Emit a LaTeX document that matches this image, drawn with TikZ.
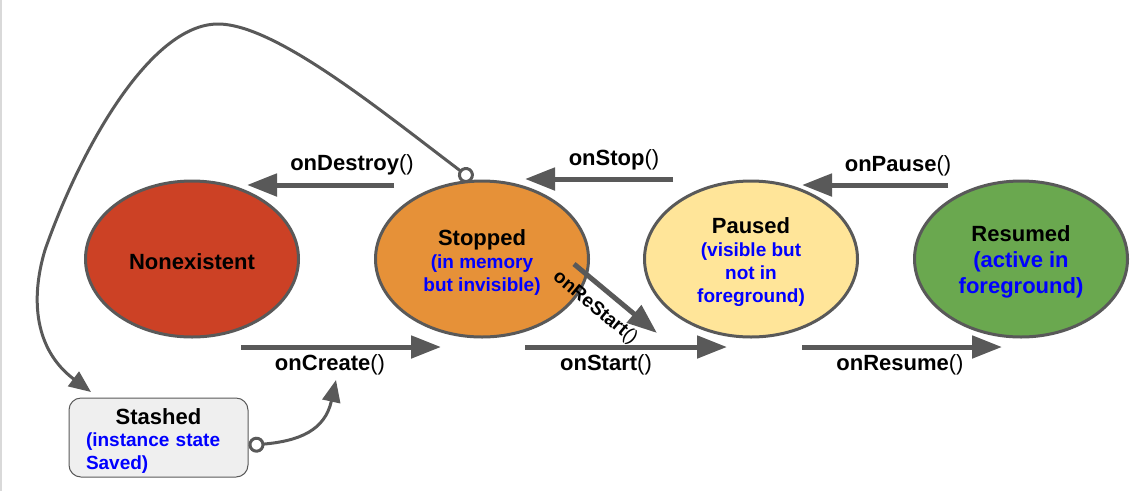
\documentclass[tikz,border=0pt]{standalone}
\usepackage{fontspec}
\setmainfont{Liberation Sans}
\usepackage{tikz}
\usetikzlibrary{shapes,arrows.meta}

\definecolor{edgegray}{HTML}{595959}
\definecolor{nonexred}{HTML}{CC4125}
\definecolor{stoporange}{HTML}{E69138}
\definecolor{pauseyellow}{HTML}{FFE599}
\definecolor{resumegreen}{HTML}{6AA84F}
\definecolor{stashgray}{HTML}{EFEFEF}
\definecolor{noteblue}{HTML}{0000FF}

\newcommand{\statename}[1]{{\fontsize{22}{26}\selectfont\bfseries\rule{0pt}{22pt}#1}}
\newcommand{\statenote}[1]{{\bfseries\color{noteblue}#1}}
\newcommand{\callback}[1]{\textbf{#1}()}

\begin{document}
\begin{tikzpicture}[x=1pt,y=-1pt]

\tikzstyle{lifestate}=[ellipse, draw=edgegray, line width=3pt,
	minimum width=213pt, minimum height=156pt, inner sep=0pt,
	align=center, font=\fontsize{19}{23}\selectfont]
\tikzstyle{stashbox}=[rectangle, rounded corners=12pt, draw=edgegray,
	line width=1pt, fill=stashgray, minimum width=179pt, minimum height=79pt,
	inner xsep=0pt, text width=145pt, align=left,
	font=\fontsize{19}{22.5}\selectfont]
\tikzstyle{lbl}=[font=\fontsize{22}{26}\selectfont, inner sep=0pt]
\tikzstyle{callarrow}=[draw=edgegray, line width=5pt,
	-{Triangle[length=30pt,width=22pt]}]
\tikzstyle{loopline}=[draw=edgegray, line width=3pt,
	{Circle[length=16pt,fill=white]}-{Triangle[length=22pt,width=18pt]}]

\useasboundingbox (0,0) rectangle (1137,491);
\draw[draw=black!15, line width=2pt] (1,0) -- (1,491);

% the four states
\node[lifestate, fill=nonexred] (nonexistent) at (192,259)
	{\statename{Nonexistent}};
\node[lifestate, fill=stoporange] (stopped) at (482,259)
	{\statename{Stopped}\\ \statenote{(in memory}\\ \statenote{but invisible)}};
\node[lifestate, fill=pauseyellow] (paused) at (751,259)
	{\statename{Paused}\\ \statenote{(visible but}\\ \statenote{not in}\\
	 \statenote{foreground)}};
\node[lifestate, fill=resumegreen, font=\fontsize{22}{26}\selectfont] (resumed)
	at (1021,259)
	{\statename{Resumed}\\ \statenote{(active in}\\ \statenote{foreground)}};

\node[stashbox] (stashed) at (158.5,437.5)
	{\makebox[145pt][c]{\statename{Stashed}}\\
	 \statenote{(instance state}\\ \statenote{Saved)}};

% going down (top row)
\coordinate (destroyFrom) at (394,185);
\coordinate (destroyTo) at (247,185);
\coordinate (stopFrom) at (673,179);
\coordinate (stopTo) at (525,179);
\coordinate (pauseFrom) at (948,185);
\coordinate (pauseTo) at (802,185);
\draw[callarrow] (destroyFrom) -- (destroyTo);
\draw[callarrow] (stopFrom) -- (stopTo);
\draw[callarrow] (pauseFrom) -- (pauseTo);
\node[lbl] (destroyLbl) at (352,165) {\callback{onDestroy}};
\node[lbl] (stopLbl) at (614,160) {\callback{onStop}};
\node[lbl] (pauseLbl) at (898,166) {\callback{onPause}};

% going up (bottom row)
\coordinate (createFrom) at (241,347);
\coordinate (createTo) at (441,347);
\coordinate (startFrom) at (525,347);
\coordinate (startTo) at (727,347);
\coordinate (resumeFrom) at (802,347);
\coordinate (resumeTo) at (1002,347);
\draw[callarrow] (createFrom) -- (createTo);
\draw[callarrow] (startFrom) -- (startTo);
\draw[callarrow] (resumeFrom) -- (resumeTo);
\node[lbl] (createLbl) at (330,365) {\callback{onCreate}};
\node[lbl] (startLbl) at (606,365) {\callback{onStart}};
\node[lbl] (resumeLbl) at (900,365) {\callback{onResume}};

\coordinate (restartFrom) at (574,264);
\coordinate (restartTo) at (657,333);
\draw[callarrow] (restartFrom) -- (restartTo);
\node[lbl, font=\fontsize{19}{23}\selectfont, rotate=-39.7] (restartLbl)
	at (595,308) {\callback{onReStart}};

% stash and restore
\coordinate (stashIn) at (91,392);
\coordinate (createIn) at (336,380);
\draw[loopline] (stopped.97)
	.. controls (380,110) and (275,24) .. (218,24)
	.. controls (150,24) and (80,150) .. (45,250)
	.. controls (30,300) and (35,350) .. (stashIn);
\draw[loopline] (stashed.-5)
	.. controls (300,441) and (325,430) .. (createIn);

\end{tikzpicture}
\end{document}
